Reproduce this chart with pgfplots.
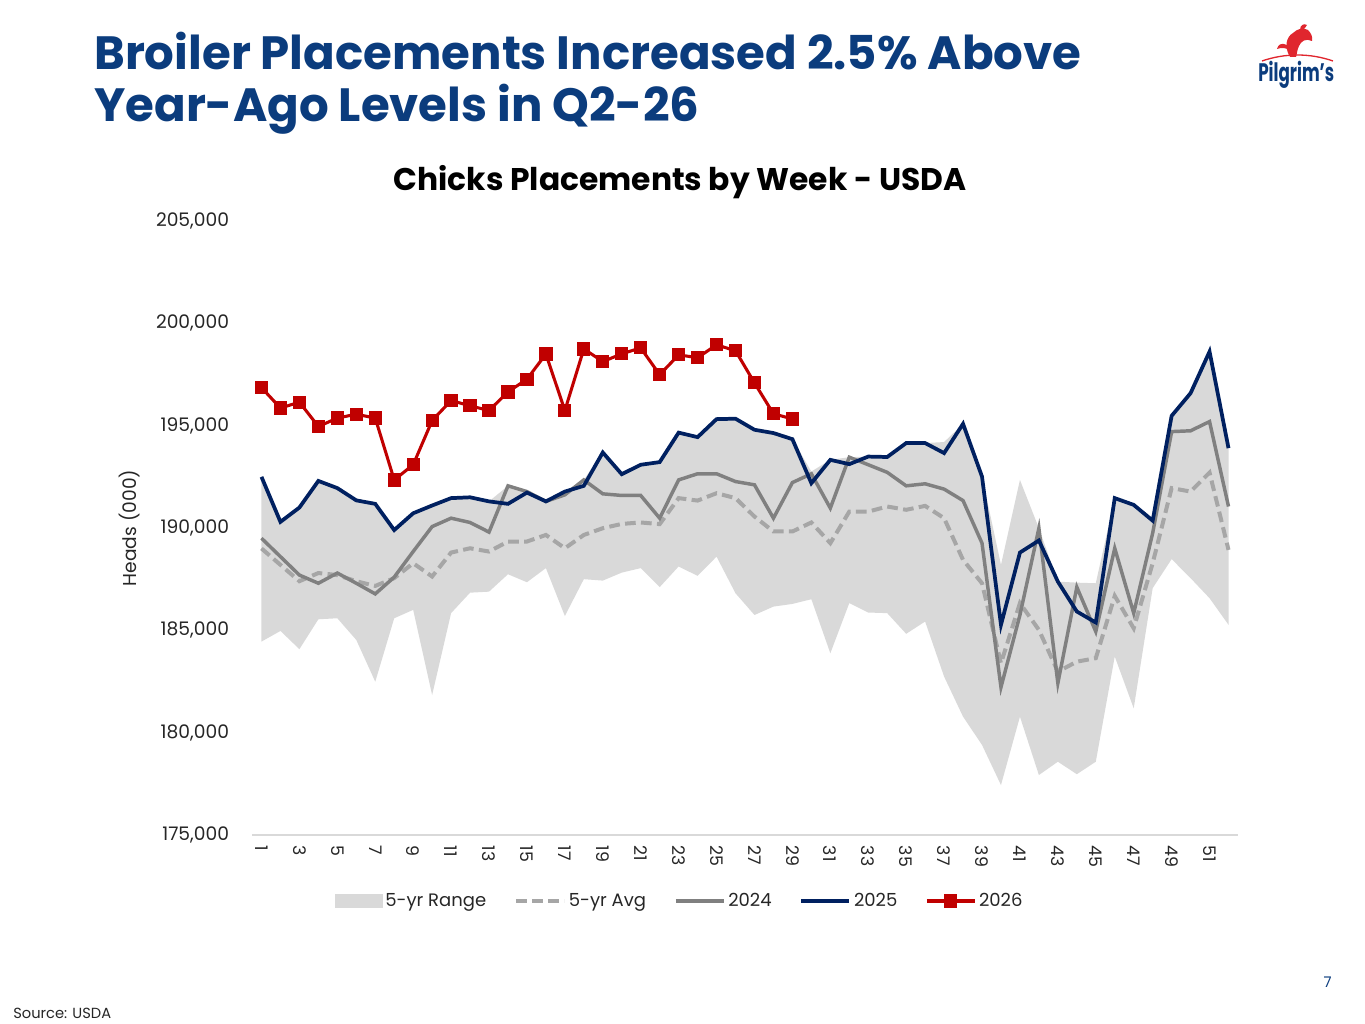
\documentclass[border=0pt]{standalone}
\usepackage{fontspec}
\setmainfont{Poppins}
\usepackage{graphicx}
\usepackage{pgfplots}
\pgfplotsset{compat=1.18}
\usepackage{pgfplotstable}
\usepgfplotslibrary{fillbetween}

\definecolor{navy}{HTML}{002060}
\definecolor{redc}{HTML}{C00000}
\definecolor{gtwo}{HTML}{808080}
\definecolor{gavg}{HTML}{A6A6A6}
\definecolor{grange}{HTML}{D9D9D9}
\definecolor{titleblue}{HTML}{0B3C7D}
\definecolor{txt}{HTML}{262626}
\definecolor{logored}{HTML}{E0262E}

\pgfplotstableread{
w lo hi avg ytf ytw
1 184450 192500 189000 189500 192500
2 184970 190300 188200 188600 190300
3 184080 191000 187400 187700 191000
4 185540 192300 187800 187300 192300
5 185590 191950 187700 187800 191950
6 184530 191350 187400 187300 191350
7 182490 191180 187170 186780 191180
8 185590 189900 187550 187600 189900
9 186000 190720 188280 188850 190720
10 181840 191100 187630 190070 191100
11 185840 191460 188800 190480 191460
12 186840 191500 189010 190270 191500
13 186890 191300 188850 189800 191300
14 187740 192060 189340 192060 191180
15 187350 191780 189340 191780 191730
16 188040 191300 189660 191300 191300
17 185700 191780 189010 191620 191780
18 187500 192350 189660 192350 192060
19 187430 193690 189990 191670 193690
20 187820 192630 190200 191590 192630
21 188040 193090 190270 191590 193090
22 187110 193220 190190 190480 193220
23 188120 194660 191460 192350 194660
24 187660 194440 191340 192650 194440
25 188600 195320 191700 192650 195320
26 186810 195340 191460 192270 195340
27 185750 194800 190560 192110 194800
28 186160 194640 189830 190480 194640
29 186290 194340 189830 192220 194340
30 186520 192760 190270 192650 192190
31 183880 193330 189260 190970 193330
32 186330 193460 190800 193460 193120
33 185870 193490 190800 193090 193490
34 185840 193470 191050 192720 193470
35 184830 194150 190890 192060 194150
36 185430 194150 191080 192160 194150
37 182740 194200 190480 191900 193660
38 180780 195090 188440 191340 195090
39 179400 192510 187300 189260 192510
40 177440 188200 183390 182220 185270
41 180780 192350 186330 185750 188800
42 177930 189990 185020 189990 189390
43 178580 187380 182980 182420 187380
44 177970 187330 183470 187110 185920
45 178580 187300 183640 184940 185380
46 183720 191460 186680 189010 191460
47 181190 191130 185100 185840 191130
48 187060 190360 188280 189750 190360
49 188480 195480 191950 194710 195480
50 187550 196590 191780 194750 196590
51 186570 198620 192710 195200 198620
52 185270 193900 188930 191050 193900
}\weekly

\pgfplotstableread{
w v
1 196860
2 195860
3 196150
4 194960
5 195370
6 195560
7 195370
8 192350
9 193090
10 195250
11 196230
12 195970
13 195740
14 196650
15 197270
16 198500
17 195740
18 198750
19 198130
20 198510
21 198800
22 197490
23 198460
24 198320
25 198950
26 198660
27 197090
28 195580
29 195330
}\ytsix

\begin{document}
\begin{tikzpicture}
\path (0,0) rectangle (1023.75pt,-768pt);

\begin{axis}[
  at={(189pt,-626.25pt)}, anchor=south west,
  scale only axis, width=739.5pt, height=460.5pt,
  xmin=0.5, xmax=52.5, ymin=175000, ymax=205000,
  xtick={1,3,...,51},
  xticklabels={1,3,5,7,9,11,13,15,17,19,21,23,25,27,29,31,33,35,37,39,41,43,45,47,49,51},
  ytick={175000,180000,...,205000},
  yticklabels={{175,000},{180,000},{185,000},{190,000},{195,000},{200,000},{205,000}},
  scaled y ticks=false,
  axis x line*=bottom, axis y line*=left,
  x axis line style={draw=grange, line width=1.2pt, -},
  y axis line style={draw=none},
  major tick length=0pt,
  tick style={draw=none},
  yticklabel style={font=\fontsize{14}{14}\selectfont, text=txt, inner sep=0pt, xshift=-17pt},
  xticklabel style={font=\fontsize{13}{13}\selectfont, text=txt, rotate=-90, anchor=west, inner sep=0pt, xshift=8pt},
  ylabel={Heads (000)},
  ylabel style={at={(rel axis cs:-0.124,0.5)}, anchor=center, font=\fontsize{14}{14}\selectfont, text=txt},
  title={\bfseries Chicks Placements by Week - USDA},
  title style={at={(rel axis cs:0.434,1.051)}, anchor=center, font=\fontsize{23.5}{23.5}\selectfont, text=black},
  legend columns=5,
  legend style={at={(rel axis cs:0.434,-0.1075)}, anchor=center, draw=none, fill=none,
    font=\fontsize{13.5}{13.5}\selectfont, text=txt,
    /tikz/every even column/.append style={column sep=19pt},
    /tikz/every odd column/.append style={column sep=0pt}},
  legend image code/.code={\draw[mark repeat=2,mark phase=2,#1] plot coordinates {(0pt,0pt) (18pt,0pt) (36pt,0pt)};},
]
\addplot[name path=hi, draw=none, forget plot] table[x=w, y=hi] {\weekly};
\addplot[name path=lo, draw=none, forget plot] table[x=w, y=lo] {\weekly};
\addplot[fill=grange, draw=none,
  legend image code/.code={\fill[grange] (0pt,-5pt) rectangle (36pt,5pt);}]
  fill between[of=hi and lo];
\addlegendentry{5-yr Range}
\addplot[gavg, line width=3pt, dash pattern=on 8pt off 4pt] table[x=w, y=avg] {\weekly};
\addlegendentry{5-yr Avg}
\addplot[gtwo, line width=2.6pt] table[x=w, y=ytf] {\weekly};
\addlegendentry{2024}
\addplot[navy, line width=2.8pt] table[x=w, y=ytw] {\weekly};
\addlegendentry{2025}
\addplot[redc, line width=2.3pt, mark=square*, mark size=3.8pt, mark options={solid}] table[x=w, y=v] {\ytsix};
\addlegendentry{2026}
\end{axis}

\begin{scope}[x=0.75pt, y=-0.75pt]
\node[anchor=base west, inner sep=0pt, text=titleblue, font=\fontsize{35}{35}\selectfont\bfseries] at (94,69.5) {Broiler Placements Increased 2.5\% Above};
\node[anchor=base west, inner sep=0pt, text=titleblue, font=\fontsize{35}{35}\selectfont\bfseries] at (94,121.5) {Year-Ago Levels in Q2-26};
\node[anchor=base west, inner sep=0pt, text=txt, font=\fontsize{11}{11}\selectfont] at (13,1018) {Source: USDA};
\node[anchor=base east, inner sep=0pt, text=titleblue, font=\fontsize{11}{11}\selectfont] at (1332,987) {7};
% logo
\draw[logored, line width=1pt] (1262,61) .. controls (1285,53) and (1310,53) .. (1333,61);
\fill[logored] (1290,57) .. controls (1284,47) and (1286,37) .. (1293,33) .. controls (1297,29) and (1303,27) .. (1308,30) .. controls (1311,33) and (1313,37) .. (1312,41) .. controls (1306,38) and (1301,41) .. (1299,46) .. controls (1297,50) and (1297,54) .. (1296,57) -- cycle;
\fill[logored] (1300,30) .. controls (1300,25) and (1304,23) .. (1307,25) .. controls (1306,27) and (1304,29) .. (1303,30) -- cycle;
\fill[logored] (1287,45) .. controls (1281,42) and (1278,45) .. (1277,49) .. controls (1282,47) and (1286,48) .. (1289,50) -- cycle;
\node[anchor=base west, inner sep=0pt, text=titleblue, font=\fontsize{19}{19}\selectfont\bfseries] at (1258,82) {\scalebox{0.66}[1]{Pilgrim's}};
\end{scope}
\end{tikzpicture}
\end{document}
